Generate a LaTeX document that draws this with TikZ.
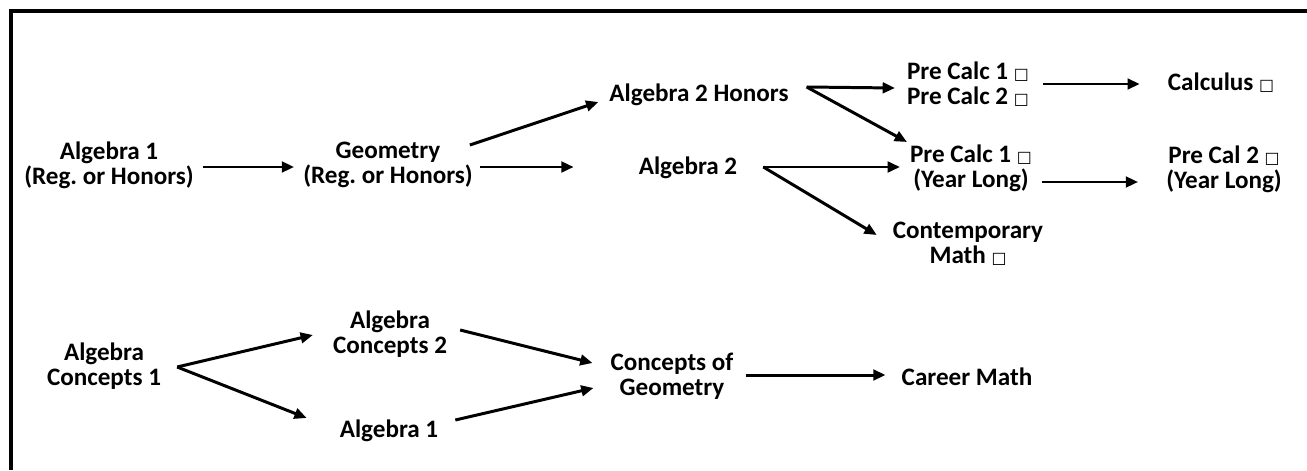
\documentclass[tikz,border=0pt]{standalone}
\usepackage{fontspec}
\setmainfont{Carlito}
\newfontfamily\boxfont{DejaVu Sans}
\usetikzlibrary{arrows.meta}
\newcommand{\chk}{{\boxfont\fontsize{9pt}{9pt}\selectfont\mdseries □}}
\frenchspacing

\begin{document}
\begin{tikzpicture}[x=0.02cm,y=-0.02cm,
	course/.style={align=center,inner xsep=5pt,inner ysep=2pt,font=\bfseries\fontsize{14.3pt}{14.2pt}\selectfont},
	arr/.style={line width=1.7pt,-{Triangle[length=7pt,width=6pt]}}]
				\useasboundingbox (0,0) rectangle (1307,470);
				\draw[line width=2.3pt] (11,470) -- (11,11) -- (1307,11);
				
				\node[course] at (109,165) (alga) {Algebra 1\\(Reg. or Honors)};
				\node[course] at (388,165) (geom) {Geometry\\(Reg. or Honors)};
				\node[course] at (699,95) (algbh) {Algebra 2 Honors};
				\node[course] at (688,168) (algb) {Algebra 2};
				\node[course] at (968,84) (pcab) {Pre Calc 1 \chk\\Pre Calc 2 \chk};
				\node[course] at (971,168) (pcyl) {Pre Calc 1 \chk\\(Year Long)};
				\node[course] at (968,244) (cont) {Contemporary\\Math \chk};
				\node[course] at (1221,83) (calc) {Calculus \chk};
				\node[course] at (1224,169) (pcbyl) {Pre Cal 2 \chk\\(Year Long)};
				
				\node[course] at (104,366) (acona) {Algebra\\Concepts 1};
				\node[course] at (390,334) (aconb) {Algebra\\Concepts 2};
				\node[course] at (389,431) (algalow) {Algebra 1};
				\node[course] at (672,376) (cgeom) {Concepts of\\Geometry};
				\node[course] at (967,377) (career) {Career Math};
				
				\coordinate (hfork) at ([shift={(9,-8)}]algbh.east);
				\coordinate (bfork) at ([shift={(17,-1)}]algb.east);
				\coordinate (cfork) at ([shift={(7,1)}]acona.east);
				
				\draw[arr] ([shift={(0,2)}]alga.east) -- ([shift={(0,2)}]geom.west);
				\draw[arr] ([shift={(-12,-20)}]geom.east) -- ([shift={(-2,7)}]algbh.west);
				\draw[arr] ([shift={(-2,2)}]geom.east) -- ([shift={(-56,-1)}]algb.west);
				\draw[arr] (hfork) -- ([shift={(-3,4)}]pcab.west);
				\draw[arr] (hfork) -- ([shift={(6,-26)}]pcyl.west);
				\draw[arr] (bfork) -- ([shift={(-1,-1)}]pcyl.west);
				\draw[arr] (bfork) -- ([shift={(-7,-9)}]cont.west);
				\draw[arr] ([shift={(5,0)}]pcab.east) -- ([shift={(-19,1)}]calc.west);
				\draw[arr] ([shift={(1,14)}]pcyl.east) -- ([shift={(-19,13)}]pcbyl.west);
				
				\draw[arr] (cfork) -- ([shift={(-11,1)}]aconb.west);
				\draw[arr] (cfork) -- ([shift={(-24,-13)}]algalow.west);
				\draw[arr] ([shift={(4,-4)}]aconb.east) -- ([shift={(-9,-13)}]cgeom.west);
				\draw[arr] ([shift={(8,-11)}]algalow.east) -- ([shift={(-8,12)}]cgeom.west);
				\draw[arr] ([shift={(3,-1)}]cgeom.east) -- ([shift={(-7,-2)}]career.west);
				
				\end{tikzpicture}
\end{document}
